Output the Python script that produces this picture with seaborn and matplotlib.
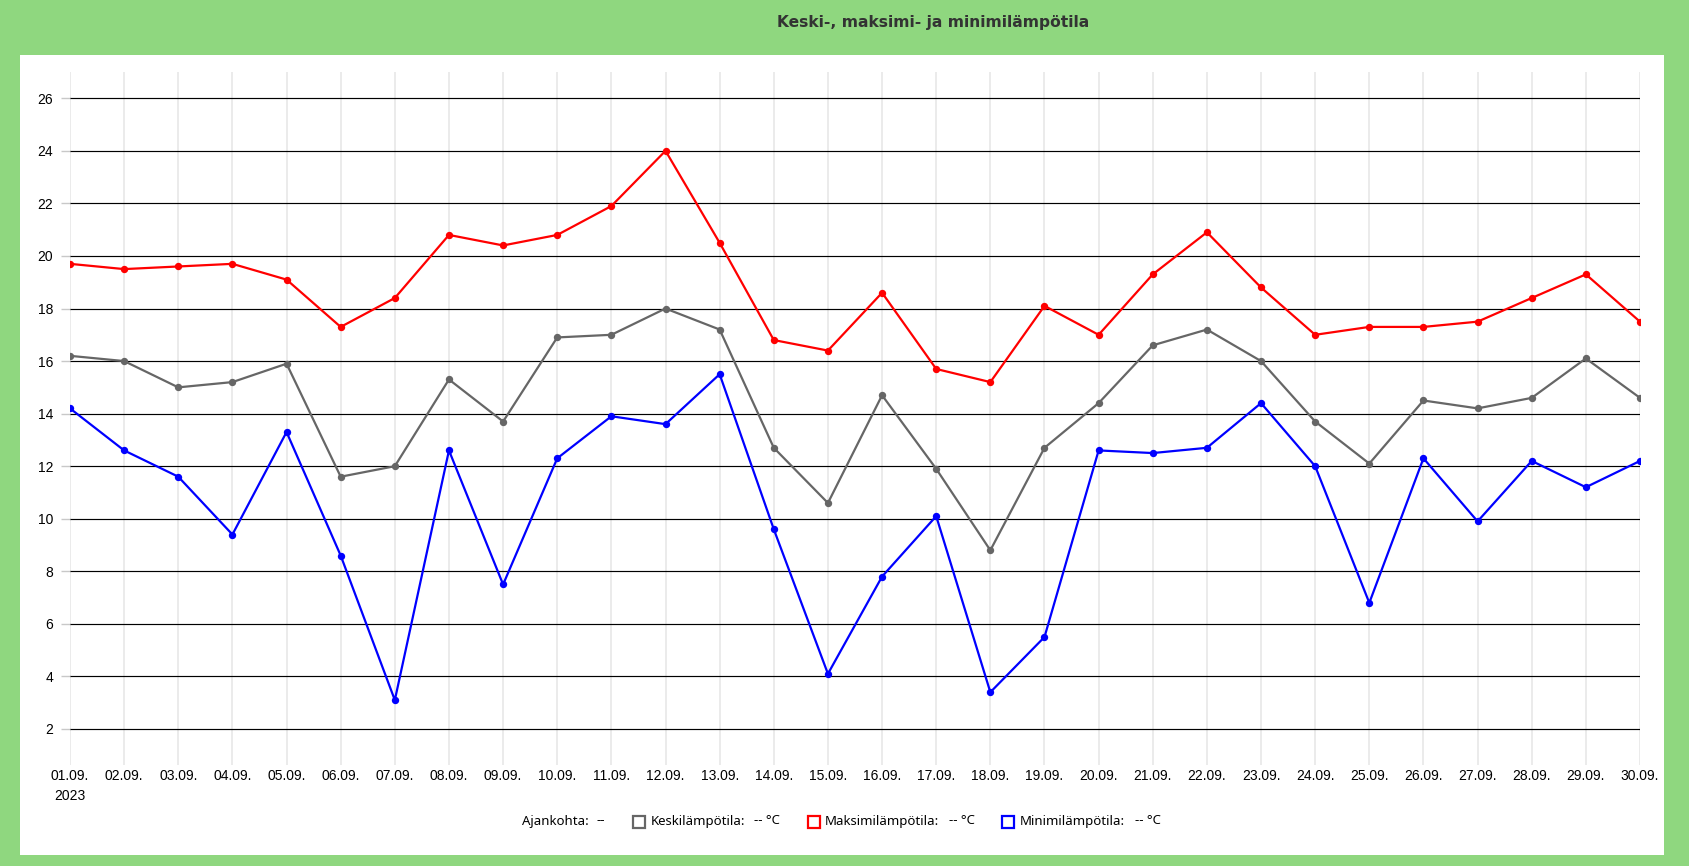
import matplotlib
matplotlib.use("Agg")
import matplotlib.pyplot as plt
import pandas as pd
import seaborn as sns
from matplotlib.patches import Rectangle

# temperatures for September 2023
days = [f"{d:02d}.09." for d in range(1, 31)]
keski = [16.2, 16.0, 15.0, 15.2, 15.9, 11.6, 12.0, 15.3, 13.7, 16.9,
         17.0, 18.0, 17.2, 12.7, 10.6, 14.7, 11.9, 8.8, 12.7, 14.4,
         16.6, 17.2, 16.0, 13.7, 12.1, 14.5, 14.2, 14.6, 16.1, 14.6]
maksimi = [19.7, 19.5, 19.6, 19.7, 19.1, 17.3, 18.4, 20.8, 20.4, 20.8,
           21.9, 24.0, 20.5, 16.8, 16.4, 18.6, 15.7, 15.2, 18.1, 17.0,
           19.3, 20.9, 18.8, 17.0, 17.3, 17.3, 17.5, 18.4, 19.3, 17.5]
minimi = [14.2, 12.6, 11.6, 9.4, 13.3, 8.6, 3.1, 12.6, 7.5, 12.3,
          13.9, 13.6, 15.5, 9.6, 4.1, 7.8, 10.1, 3.4, 5.5, 12.6,
          12.5, 12.7, 14.4, 12.0, 6.8, 12.3, 9.9, 12.2, 11.2, 12.2]
series = ["Keskilämpötila", "Maksimilämpötila", "Minimilämpötila"]
colors = ["#666666", "#ff0000", "#0000ff"]
yticks = list(range(2, 27, 2))

df = pd.concat([
    pd.DataFrame({"idx": range(len(days)), "day": days, "value": vals, "series": name})
    for name, vals in zip(series, [keski, maksimi, minimi])
])

W, H = 1690, 866
fig = plt.figure(figsize=(W / 100, H / 100), dpi=100)
fig.patch.set_facecolor("#8fd77f")
fig.patches.append(Rectangle((20 / W, 1 - 855 / H), 1644 / W, 800 / H,
                             transform=fig.transFigure, facecolor="white",
                             edgecolor="none", zorder=-5))

ax = fig.add_axes([70 / W, 1 - 765 / H, 1570 / W, 693 / H])
ax.set_facecolor("none")
ax.set_zorder(2)

sns.lineplot(data=df, x="idx", y="value", hue="series", hue_order=series,
             palette=dict(zip(series, colors)), marker="o", markersize=5.3,
             markeredgewidth=0, linewidth=1.6, legend=False, sort=False, ax=ax)

ax.set_xlim(0, len(days) - 1)
ax.set_ylim(0.63, 27.0)
ax.set_xticks(range(len(days)))
ax.set_xticklabels([days[0] + "\n2023"] + days[1:], fontsize=10,
                   family="Liberation Sans", linespacing=1.55)
ax.set_yticks(yticks)
ax.set_yticklabels([str(t) for t in yticks], fontsize=10, family="Liberation Sans")
ax.tick_params(axis="x", length=0, pad=3)
ax.tick_params(axis="y", length=6.5, width=1, color="#c8c8c8", pad=5.5)
for sp in ax.spines.values():
    sp.set_visible(False)
ax.set_axisbelow(True)
ax.xaxis.grid(True, color="#ebebeb", linewidth=1.4)
ax.yaxis.grid(True, color="black", linewidth=0.85)
ax.set(xlabel="", ylabel="")

fig.text(933 / W, 1 - 22 / H, "Keski-, maksimi- ja minimilämpötila", ha="center",
         va="center", fontsize=11.2, fontweight="bold", color="#333333",
         family="DejaVu Sans")

# legend row
ly = 1 - 821 / H
lf = dict(fontsize=9.5, family="Noto Sans", va="center", color="black")
fig.text(522 / W, ly, "Ajankohta:", **lf)
fig.text(597 / W, ly, "--", **lf)
sq_left = [633, 808, 1002]
lab_left = [651, 825, 1020]
val_left = [754, 949, 1135]
for name, c, sx, lx, vx in zip(series, colors, sq_left, lab_left, val_left):
    fig.patches.append(Rectangle((sx / W, 1 - 828 / H), 12 / W, 12 / H,
                                 transform=fig.transFigure, facecolor="white",
                                 edgecolor=c, linewidth=1.6))
    fig.text(lx / W, ly, name + ":", **lf)
    fig.text(vx / W, ly, "-- °C", **lf)

fig.savefig("out.png", dpi=100, facecolor=fig.get_facecolor())
